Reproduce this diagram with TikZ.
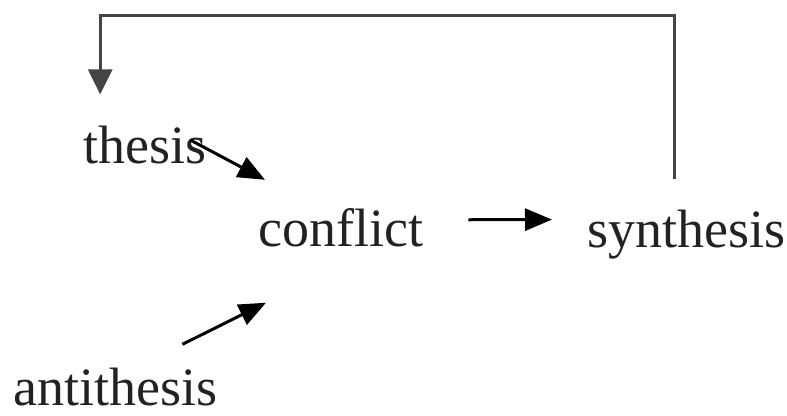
\documentclass[tikz,border=0pt]{standalone}
\usepackage{fontspec}
\setmainfont{Liberation Serif}
\usetikzlibrary{arrows.meta}
\definecolor{ink}{RGB}{34,34,34}
\definecolor{loopgray}{RGB}{68,68,68}
\tikzstyle{textonly} = [draw=none, fill=none, inner sep=0pt, anchor=base west, text=ink, font=\fontsize{54}{60}\selectfont]
\tikzstyle{tedge}  = [draw, line width=3pt, -{Triangle[length=27pt,width=22pt]}]
\tikzstyle{loopedge}  = [draw=loopgray, line width=3pt, -{Triangle[length=25pt,width=24pt]}]

\begin{document}
\begin{tikzpicture}[x=1pt, y=-1pt]
\useasboundingbox (0,0) rectangle (787,415);

% terms
\node[textonly] (thesis) at (83,163) {thesis};
\node[textonly] (conflict) at (258,246) {conflict};
\node[textonly] (synthesis) at (587,247) {synthesis};
\node[textonly] (antithesis) at (13,405) {antithesis};

% edges into conflict
\path[tedge] ([xshift=-16pt,yshift=4.5pt]thesis.east) -- ([xshift=7pt,yshift=28pt]conflict.north west);
\path[tedge] ([xshift=-35pt,yshift=23pt]antithesis.north east) -- ([xshift=8pt,yshift=-56pt]conflict.south west);

% conflict to synthesis
\path[tedge] ([xshift=45pt,yshift=7.5pt]conflict.east) -- ([xshift=-35pt,yshift=14.5pt]synthesis.west);

% synthesis back to thesis
\coordinate (fbtop) at (387,15);
\path[loopedge] ([xshift=-12pt,yshift=30pt]synthesis.north) |- (fbtop) -| ([xshift=-44.5pt,yshift=31pt]thesis.north);

\end{tikzpicture}
\end{document}
